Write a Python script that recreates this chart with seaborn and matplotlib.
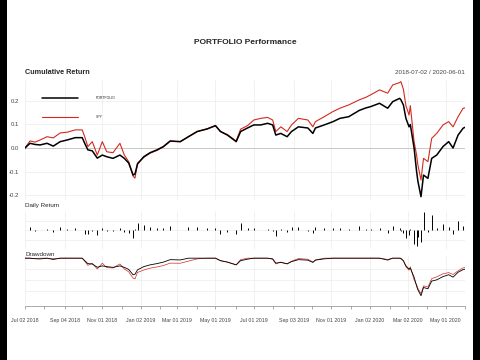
import matplotlib
matplotlib.use("Agg")
import matplotlib.pyplot as plt
from matplotlib.patches import Rectangle
import seaborn as sns
import pandas as pd
import numpy as np

# cumulative return
dates = [
    "2018-07-02", "2018-07-10", "2018-07-18", "2018-07-26", "2018-08-06", "2018-08-16",
    "2018-08-27", "2018-09-07", "2018-09-20", "2018-10-01", "2018-10-05", "2018-10-10",
    "2018-10-17", "2018-10-25", "2018-11-02", "2018-11-09", "2018-11-19", "2018-11-30",
    "2018-12-07", "2018-12-14", "2018-12-21", "2018-12-24", "2018-12-28", "2019-01-07",
    "2019-01-17", "2019-01-28", "2019-02-07", "2019-02-18", "2019-03-06", "2019-03-19",
    "2019-04-02", "2019-04-18", "2019-05-01", "2019-05-09", "2019-05-20", "2019-06-03",
    "2019-06-10", "2019-06-21", "2019-07-01", "2019-07-12", "2019-07-23", "2019-07-31",
    "2019-08-05", "2019-08-13", "2019-08-23", "2019-08-30", "2019-09-10", "2019-09-25",
    "2019-10-03", "2019-10-07", "2019-10-21", "2019-11-04", "2019-11-15", "2019-11-29",
    "2019-12-16", "2019-12-26", "2020-01-03", "2020-01-17", "2020-01-30", "2020-02-07",
    "2020-02-18", "2020-02-20", "2020-02-24", "2020-02-28", "2020-03-04", "2020-03-06",
    "2020-03-12", "2020-03-16", "2020-03-18", "2020-03-23", "2020-03-27", "2020-04-03",
    "2020-04-09", "2020-04-17", "2020-04-27", "2020-05-06", "2020-05-13", "2020-05-21",
    "2020-05-29", "2020-06-01",
]
portfolio = [
    0.000, 0.020, 0.015, 0.013, 0.020, 0.008,
    0.027, 0.034, 0.044, 0.044, 0.020, -0.008,
    -0.012, -0.043, -0.030, -0.037, -0.044, -0.030,
    -0.044, -0.064, -0.115, -0.110, -0.068, -0.037,
    -0.020, -0.008, 0.006, 0.030, 0.027, 0.048,
    0.070, 0.081, 0.095, 0.070, 0.055, 0.027,
    0.070, 0.085, 0.098, 0.098, 0.105, 0.098,
    0.055, 0.062, 0.048, 0.070, 0.090, 0.085,
    0.062, 0.085, 0.098, 0.112, 0.126, 0.133,
    0.160, 0.170, 0.176, 0.190, 0.169, 0.197,
    0.211, 0.205, 0.183, 0.126, 0.090, 0.100,
    0.000, -0.100, -0.140, -0.207, -0.115, -0.129,
    -0.044, -0.030, 0.006, 0.027, 0.000, 0.055,
    0.084, 0.088,
]
spy = [
    0.000, 0.030, 0.025, 0.034, 0.048, 0.043,
    0.064, 0.067, 0.077, 0.077, 0.048, 0.006,
    0.027, -0.030, 0.027, -0.016, -0.020, 0.020,
    -0.030, -0.058, -0.120, -0.128, -0.064, -0.040,
    -0.022, -0.010, 0.004, 0.028, 0.027, 0.048,
    0.070, 0.082, 0.095, 0.070, 0.057, 0.030,
    0.080, 0.095, 0.119, 0.126, 0.130, 0.119,
    0.070, 0.090, 0.070, 0.098, 0.126, 0.119,
    0.090, 0.112, 0.133, 0.155, 0.169, 0.183,
    0.205, 0.215, 0.226, 0.247, 0.233, 0.268,
    0.278, 0.282, 0.250, 0.180, 0.140, 0.180,
    0.027, -0.030, -0.072, -0.136, -0.044, -0.058,
    0.041, 0.062, 0.098, 0.112, 0.090, 0.133,
    0.169, 0.170,
]

tick_dates = ["2018-07-02", "2018-08-01", "2018-09-04", "2018-10-01", "2018-11-01", "2018-12-03",
              "2019-01-02", "2019-02-01", "2019-03-01", "2019-04-01", "2019-05-01", "2019-06-03",
              "2019-07-01", "2019-08-01", "2019-09-03", "2019-10-01", "2019-11-01", "2019-12-02",
              "2020-01-02", "2020-02-03", "2020-03-02", "2020-04-01", "2020-05-01", "2020-06-01"]

df = pd.DataFrame({"date": pd.to_datetime(dates), "PORTFOLIO": portfolio, "SPY": spy})
wealth = 1 + df[["PORTFOLIO", "SPY"]]
daily = wealth["PORTFOLIO"].pct_change().fillna(0)
dd = wealth / wealth.cummax() - 1

sns.set_theme(style="white")
plt.rcParams["font.family"] = ["Liberation Sans", "DejaVu Sans"]

RED = "#d42a20"
GRID = "#ececec"
TXT = "#444444"

ticks = pd.to_datetime(tick_dates)
major = ticks[::2]
x0, x1 = df["date"].iloc[0], df["date"].iloc[-1]

fig = plt.figure(figsize=(4.8, 3.6), dpi=100)
fig.patch.set_facecolor("black")
fig.add_artist(Rectangle((7 / 480, 0), 466 / 480, 1, transform=fig.transFigure,
                         facecolor="white", edgecolor="none", zorder=0))


def panel(rect):
    ax = fig.add_axes(rect)
    ax.set_facecolor("none")
    for s in ax.spines.values():
        s.set_visible(False)
    ax.set_xlim(x0, x1)
    for d in major:
        ax.axvline(d, color=GRID, lw=0.5, zorder=0)
    ax.tick_params(length=0, labelsize=4.3, colors=TXT, pad=4)
    ax.set_xticks([])
    ax.set_xlabel("")
    ax.set_ylabel("")
    return ax


# Cumulative Return
ax1 = panel([25 / 480, 1 - 200 / 360, 440 / 480, 120 / 360])
for v in [-0.2, -0.1, 0.1, 0.2]:
    ax1.axhline(v, color=GRID, lw=0.5, zorder=0)
ax1.axhline(0, color="#c8c8c8", lw=0.7, zorder=0)
sns.lineplot(data=df, x="date", y="SPY", color=RED, lw=0.8, ax=ax1, label="SPY")
sns.lineplot(data=df, x="date", y="PORTFOLIO", color="black", lw=1.1, ax=ax1, label="PORTFOLIO")
ax1.set_ylim(-0.221, 0.289)
ax1.set_yticks([-0.2, -0.1, 0.0, 0.1, 0.2])
ax1.set_yticklabels(["-0.2", "-0.1", "0.0", "0.1", "0.2"])
ax1.set_xticks([])
ax1.set_xlabel("")
ax1.set_ylabel("")
h, l = ax1.get_legend_handles_labels()
ax1.legend(h[::-1], l[::-1], loc="upper left", bbox_to_anchor=(0.035, 0.875), frameon=False,
           fontsize=2.5, handlelength=10.5, handletextpad=5, labelspacing=4.3,
           borderaxespad=0)

# Daily Return
ax2 = panel([25 / 480, 1 - 249 / 360, 440 / 480, 38 / 360])
lim = np.abs(daily).max() * 1.05
for v in [-lim / 2, 0, lim / 2]:
    ax2.axhline(v, color=GRID, lw=0.5, zorder=0)
ax2.vlines(df["date"], 0, daily, color="black", lw=0.7)
ax2.set_ylim(-lim, lim)
ax2.set_yticks([])
ax2.set_xticks([])

# Drawdown
ax3 = panel([25 / 480, 1 - 305 / 360, 440 / 480, 49 / 360])
for v in [-0.1, -0.2, -0.3]:
    ax3.axhline(v, color=GRID, lw=0.5, zorder=0)
ddl = dd.assign(date=df["date"])
sns.lineplot(data=ddl, x="date", y="SPY", color=RED, lw=0.5, ax=ax3)
sns.lineplot(data=ddl, x="date", y="PORTFOLIO", color="black", lw=0.6, ax=ax3)
ax3.set_ylim(-0.43, 0.02)
ax3.set_yticks([])
ax3.set_ylabel("")
ax3.spines["bottom"].set_visible(True)
ax3.spines["bottom"].set_color("#888888")
ax3.spines["bottom"].set_linewidth(0.5)
ax3.spines["bottom"].set_position(("outward", 1))
ax3.set_xticks(ticks)
ax3.set_xticklabels([d.strftime("%b %d %Y") if d in major else "" for d in ticks])
ax3.tick_params(axis="x", length=2.5, width=0.5, color="#888888", pad=6,
                labelsize=3.8, labelcolor=TXT, bottom=True)
ax3.set_xlabel("")

fig.text(245 / 480, 1 - 43 / 360, "PORTFOLIO Performance", ha="center", va="center",
         fontsize=6, fontweight="bold")
fig.text(25 / 480, 1 - 72 / 360, "Cumulative Return", ha="left", va="center",
         fontsize=5.2, fontweight="bold")
fig.text(465 / 480, 1 - 72 / 360, "2018-07-02 / 2020-06-01", ha="right", va="center",
         fontsize=4.5, color=TXT)
fig.text(25 / 480, 1 - 206 / 360, "Daily Return", ha="left", va="center", fontsize=4.5)
fig.text(25 / 480, 1 - 255 / 360, "Drawdown", ha="left", va="center", fontsize=4.5)

fig.savefig("out.png", dpi=100, facecolor=fig.get_facecolor())
